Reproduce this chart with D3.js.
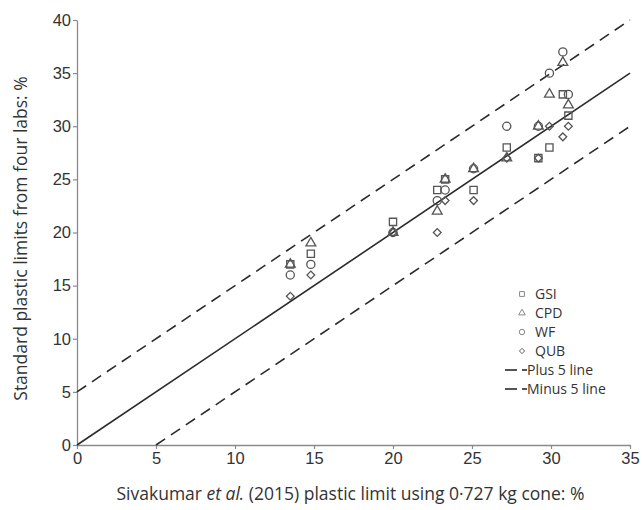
<!DOCTYPE html>
<html>
<head>
<meta charset="utf-8">
<script src="https://cdn.jsdelivr.net/npm/d3@7"></script>
<style>
  body { margin: 0; background: #fff; }
  svg { display: block; font-family: "Open Sans", "Noto Sans", sans-serif; }
</style>
</head>
<body>
<svg id="chart" width="642" height="510"></svg>
<script>
// ---- data ----
const xVals = [13.5, 14.8, 20.0, 22.8, 23.3, 25.1, 27.2, 29.2, 29.9, 30.75, 31.1];
const gsi   = [17, 18, 21, 24, 25, 24, 28, 27, 28, 33, 31];
const cpd   = [17, 19, 20, 22, 25, 26, 27, 30, 33, 36, 32];
const wf    = [16, 17, 20, 23, 24, 26, 30, 30, 35, 37, 33];
const qub   = [14, 16, 20, 20, 23, 23, 27, 27, 30, 29, 30];
const seriesNames = ["GSI", "CPD", "WF", "QUB"];
const lineNames = ["Plus 5 line", "Minus 5 line"];
const xTicks = [0, 5, 10, 15, 20, 25, 30, 35];
const yTicks = [0, 5, 10, 15, 20, 25, 30, 35, 40];
const lineOffsets = [0, 5, -5];

const svg = d3.select("#chart");
const margin = {left: 77, top: 20, right: 12, bottom: 65};
const W = 642 - margin.left - margin.right;
const H = 510 - margin.top - margin.bottom;
const g = svg.append("g").attr("transform", `translate(${margin.left},${margin.top})`);

const x = d3.scaleLinear().domain([0, 35]).range([0, W]);
const y = d3.scaleLinear().domain([0, 40]).range([H, 0]);

// axes
const xAxis = g.append("g").attr("transform", `translate(0,${H})`)
  .call(d3.axisBottom(x).tickValues(xTicks).tickSize(4).tickPadding(3).tickSizeOuter(0));
const yAxis = g.append("g")
  .call(d3.axisLeft(y).tickValues(yTicks).tickSize(4).tickPadding(2).tickSizeOuter(0));
[xAxis, yAxis].forEach(a => {
  a.select(".domain").attr("stroke", "#8a8a8a").attr("stroke-width", 1.3);
  a.selectAll(".tick line").attr("stroke", "#8a8a8a").attr("stroke-width", 1.2);
  a.selectAll(".tick text").attr("fill", "#333").style("font-size", "16.5px");
});

// reference lines
const clipLine = off => {
  const x0 = Math.max(0, -off), x1 = Math.min(35, 40 - off);
  return [[x0, x0 + off], [x1, x1 + off]];
};
const lineGen = d3.line().x(d => x(d[0])).y(d => y(d[1]));
lineOffsets.forEach(off => {
  g.append("path").attr("d", lineGen(clipLine(off)))
    .attr("fill", "none").attr("stroke", "#2b2b2b").attr("stroke-width", 1.6)
    .attr("stroke-dasharray", off === 0 ? null : "11,7");
});

// markers
const symSize = {GSI: 52, CPD: 42, WF: 52, QUB: 30};
const symType = {GSI: d3.symbolSquare, CPD: d3.symbolTriangle, WF: d3.symbolCircle, QUB: d3.symbolSquare};
const symRot = {GSI: 0, CPD: 0, WF: 0, QUB: 45};
const seriesVals = {GSI: gsi, CPD: cpd, WF: wf, QUB: qub};
seriesNames.forEach(name => {
  const path = d3.symbol().type(symType[name]).size(symSize[name])();
  g.append("g").selectAll("path").data(xVals.map((xv, i) => [xv, seriesVals[name][i]]))
    .join("path")
    .attr("d", path)
    .attr("transform", d => `translate(${x(d[0])},${y(d[1])}) rotate(${symRot[name]})`)
    .attr("fill", "none").attr("stroke", "#555").attr("stroke-width", 1.3);
});

// legend
const leg = svg.append("g").attr("transform", "translate(522,294)");
const legStep = 19;
seriesNames.forEach((name, i) => {
  const path = d3.symbol().type(symType[name]).size(symSize[name] * 0.45)();
  leg.append("path").attr("d", path)
    .attr("transform", `translate(0,${i * legStep}) rotate(${symRot[name]})`)
    .attr("fill", "none").attr("stroke", "#888").attr("stroke-width", 1);
  leg.append("text").attr("x", 13).attr("y", i * legStep).attr("dy", "0.35em")
    .attr("fill", "#333").style("font-size", "14px").text(name);
});
lineNames.forEach((name, j) => {
  const yy = (4 + j) * legStep;
  leg.append("line").attr("x1", -17).attr("x2", -5).attr("y1", yy).attr("y2", yy)
    .attr("stroke", "#2b2b2b").attr("stroke-width", 1.6);
  leg.append("line").attr("x1", 0).attr("x2", 5).attr("y1", yy).attr("y2", yy)
    .attr("stroke", "#2b2b2b").attr("stroke-width", 1.6);
  leg.append("text").attr("x", 5).attr("y", yy).attr("dy", "0.35em")
    .attr("fill", "#333").style("font-size", "14px").text(name);
});

// axis titles
const xt = svg.append("text").attr("x", margin.left + W / 2 - 3).attr("y", 500)
  .attr("text-anchor", "middle").attr("fill", "#333").style("font-size", "17.5px");
xt.append("tspan").text("Sivakumar ");
xt.append("tspan").style("font-style", "italic").text("et al.");
xt.append("tspan").text(" (2015) plastic limit using 0·727 kg cone: %");

svg.append("text").attr("transform", `translate(27,${margin.top + H / 2 + 6}) rotate(-90)`)
  .attr("text-anchor", "middle").attr("fill", "#333").style("font-size", "17.5px")
  .text("Standard plastic limits from four labs: %");
</script>
</body>
</html>
